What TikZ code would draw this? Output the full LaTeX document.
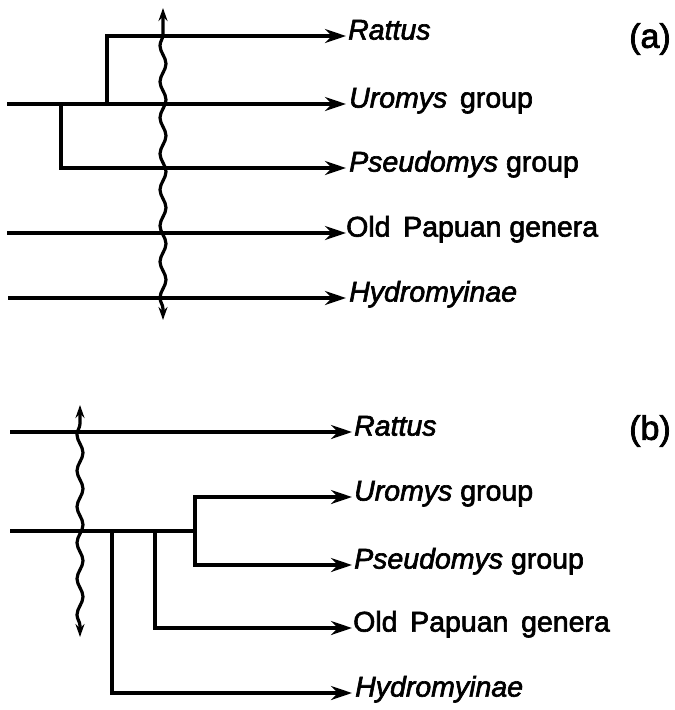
\documentclass[tikz,border=0pt]{standalone}
\usepackage{fontspec}
\setmainfont{Liberation Sans}[FakeBold=2.2]
\usetikzlibrary{arrows.meta,decorations.pathmorphing}
\begin{document}
\begin{tikzpicture}[x=1pt,y=-1pt,
  lineage/.style={line width=4.4pt},
  branch/.style={lineage,-{Stealth[length=21pt,width=14pt,inset=7pt]}},
  taxon/.style={anchor=west,inner sep=0pt,text height=0.72em,text depth=0pt,
    font=\fontsize{28.5}{32}\selectfont},
  panel/.style={inner sep=0pt,font=\fontsize{34}{38}\selectfont},
  cut/.style={line width=3.2pt,{Stealth[length=13pt,width=9pt]}-{Stealth[length=13pt,width=9pt]},
    decorate,decoration={snake,amplitude=3pt,segment length=36pt,pre length=11pt,post length=11pt}}]
\useasboundingbox (0,0) rectangle (675,710);

% ---------- (a) ----------
\coordinate (a0) at (7,104);
\coordinate (aj1) at (61,104);
\coordinate (aj2) at (107,104);
\coordinate (aR0) at (107,36);
\coordinate (aP0) at (61,168);
\coordinate (aO0) at (7,233);
\coordinate (aH0) at (8,298);
\coordinate (aRt) at (346,36);
\coordinate (aUt) at (346,104);
\coordinate (aPt) at (346,168);
\coordinate (aOt) at (346,233);
\coordinate (aHt) at (346,298);
\node[taxon] (aR) at ([xshift=2pt]aRt) {\textit{Rattus}};
\node[taxon] (aU) at ([xshift=3pt]aUt) {\textit{Uromys}\, group};
\node[taxon] (aP) at ([xshift=3pt]aPt) {\textit{Pseudomys} group};
\node[taxon] (aO) at ([xshift=0pt]aOt) {Old\, Papuan genera};
\node[taxon] (aH) at ([xshift=3pt]aHt) {\textit{Hydromyinae}};
\node[panel] (la) at (650,39) {(a)};

\draw[branch] (a0) -- (aUt);
\draw[branch] (aj2) -- (aR0) -- (aRt);
\draw[branch] (aj1) -- (aP0) -- (aPt);
\draw[branch] (aO0) -- (aOt);
\draw[branch] (aH0) -- (aHt);
\coordinate (aw1) at (163,8);
\coordinate (aw2) at (163,320);
\draw[cut] (aw2) -- (aw1);

% ---------- (b) ----------
\coordinate (bR0) at (10,432);
\coordinate (b0) at (10,531);
\coordinate (bj3) at (195,531);
\coordinate (bj2) at (155,531);
\coordinate (bj1) at (112,531);
\coordinate (bU0) at (195,497);
\coordinate (bP0) at (195,565);
\coordinate (bO0) at (155,628);
\coordinate (bH0) at (112,693);
\coordinate (bRt) at (352,432);
\coordinate (bUt) at (352,497);
\coordinate (bPt) at (352,565);
\coordinate (bOt) at (352,628);
\coordinate (bHt) at (352,693);
\node[taxon] (bR) at ([xshift=2pt]bRt) {\textit{Rattus}};
\node[taxon] (bU) at ([xshift=2pt]bUt) {\textit{Uromys} group};
\node[taxon] (bP) at ([xshift=2pt]bPt) {\textit{Pseudomys} group};
\node[taxon] (bO) at ([xshift=1pt]bOt) {Old\, Papuan\, genera};
\node[taxon] (bH) at ([xshift=3pt]bHt) {\textit{Hydromyinae}};
\node[panel] (lb) at (650,431) {(b)};

\draw[branch] (bR0) -- (bRt);
\draw[lineage] (b0) -- (bj3);
\draw[branch] (bj3) -- (bU0) -- (bUt);
\draw[branch] (bj3) -- (bP0) -- (bPt);
\draw[branch] (bj2) -- (bO0) -- (bOt);
\draw[branch] (bj1) -- (bH0) -- (bHt);
\coordinate (bw1) at (80,405);
\coordinate (bw2) at (80,637);
\draw[cut] (bw2) -- (bw1);
\end{tikzpicture}
\end{document}
